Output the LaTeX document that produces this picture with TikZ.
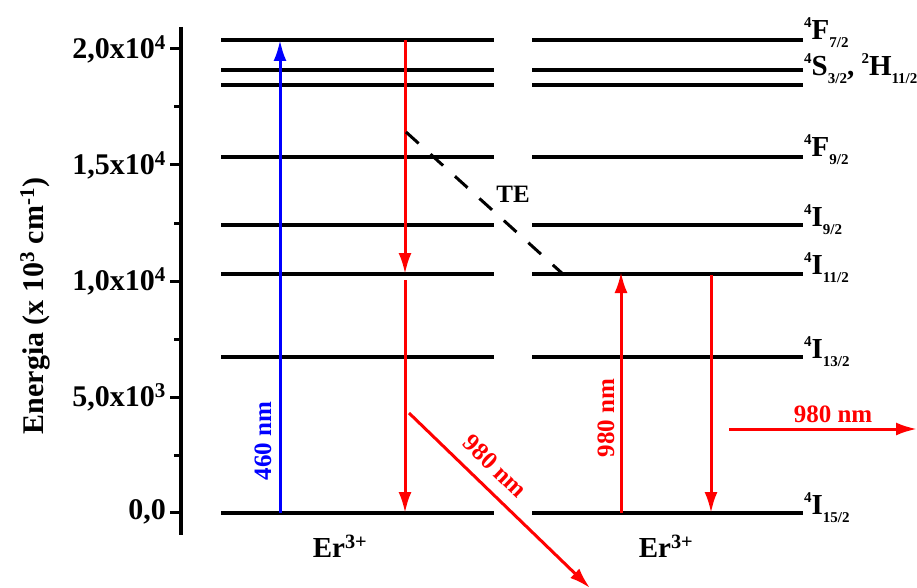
\documentclass[tikz,border=0pt]{standalone}
\usepackage{fontspec}
\setmainfont{Liberation Serif}
\usetikzlibrary{arrows.meta}
\definecolor{pred}{RGB}{255,0,0}
\definecolor{pblue}{RGB}{0,0,255}
\newcommand{\lvsup}[1]{\raisebox{12pt}{\fontsize{15}{15}\selectfont #1}}
\newcommand{\lvsub}[1]{\raisebox{-8pt}{\fontsize{15}{15}\selectfont #1}}
\begin{document}
\begin{tikzpicture}[x=1pt,y=-1pt,font=\bfseries,
  levelline/.style={line width=3.2pt,black},
  axisline/.style={line width=3.2pt,black},
  tip/.style={-{Latex[length=21pt,width=13pt]}},
  redarr/.style={tip,line width=3pt,pred},
  bluearr/.style={tip,line width=3pt,pblue},
  ticklab/.style={anchor=east,font=\bfseries\fontsize{30}{32}\selectfont,inner sep=0pt},
  levlab/.style={anchor=base west,font=\bfseries\fontsize{29}{31}\selectfont,inner sep=0pt},
  arrlab/.style={font=\bfseries\fontsize{25}{27}\selectfont,inner sep=0pt},
  erlab/.style={font=\bfseries\fontsize{29}{31}\selectfont,inner sep=0pt}]
\useasboundingbox (0,0) rectangle (917,588);
% axis
\coordinate (axtop) at (181,27);
\coordinate (axbot) at (181,535);
\draw[axisline] (axtop) -- (axbot);
\foreach \y/\t in {49/{2,0x10\textsuperscript{4}},165/{1,5x10\textsuperscript{4}},281/{1,0x10\textsuperscript{4}},397/{5,0x10\textsuperscript{3}},512/{0,0}}{
  \draw[line width=3pt] (170,\y) -- (181,\y);
  \node[ticklab] at (166,\y) {\t};
}
\foreach \y in {107,223,339,455}{
  \draw[line width=3pt] (174,\y) -- (181,\y);
}
\node[rotate=90,font=\bfseries\fontsize{30}{32}\selectfont] (ylab) at (35,306) {Energia (x 10\textsuperscript{3} cm\textsuperscript{-1})};
% levels
\foreach \n/\y in {F7/40,S3/70,H11/85,F9/157,I9/225,I11/274,I13/357,I15/513}{
  \coordinate (A\n) at (221,\y);
  \coordinate (B\n) at (494,\y);
  \coordinate (C\n) at (532,\y);
  \coordinate (D\n) at (803,\y);
  \draw[levelline] (A\n) -- (B\n);
  \draw[levelline] (C\n) -- (D\n);
}
\node[levlab] (lF7) at (804,40) {\lvsup{4}F\lvsub{7/2}};
\node[levlab] (lS3) at (804,76) {\lvsup{4}S\lvsub{3/2}, \lvsup{2}H\lvsub{11/2}};
\node[levlab] (lF9) at (804,157) {\lvsup{4}F\lvsub{9/2}};
\node[levlab] (lI9) at (804,226) {\lvsup{4}I\lvsub{9/2}};
\node[levlab] (lI11) at (804,274) {\lvsup{4}I\lvsub{11/2}};
\node[levlab] (lI13) at (804,358) {\lvsup{4}I\lvsub{13/2}};
\node[levlab] (lI15) at (804,514) {\lvsup{4}I\lvsub{15/2}};
% arrows left ion
\coordinate (b0) at (280,513);
\coordinate (b1) at (280,40);
\draw[bluearr] (b0) -- (b1);
\node[arrlab,text=pblue,rotate=90] (l460) at (263,441) {460 nm};
\coordinate (r0) at (405,40);
\coordinate (r1) at (405,274);
\coordinate (r2) at (405,280);
\coordinate (r3) at (405,513);
\draw[redarr] (r0) -- (r1);
\draw[redarr] (r2) -- (r3);
\coordinate (te0) at (406,132);
\coordinate (te1) at (564,275);
\draw[line width=3pt,dash pattern=on 17pt off 16pt] (te0) -- (te1);
\node[font=\bfseries\fontsize{25}{27}\selectfont,inner sep=0pt] (te) at (513,194) {TE};
\coordinate (d0) at (409,413);
\coordinate (d1) at (590,588);
\draw[redarr] (d0) -- (d1);
\node[arrlab,text=pred,rotate=-44] (ld) at (495,466) {980 nm};
% arrows right ion
\coordinate (u0) at (621,513);
\coordinate (u1) at (621,272);
\draw[redarr] (u0) -- (u1);
\node[arrlab,text=pred,rotate=90] (lu) at (606,418) {980 nm};
\coordinate (v0) at (711,275);
\coordinate (v1) at (711,513);
\draw[redarr] (v0) -- (v1);
\coordinate (h0) at (729,429);
\coordinate (h1) at (917,429);
\draw[redarr] (h0) -- (h1);
\node[arrlab,text=pred] (lh) at (833,414) {980 nm};
% ion labels
\node[erlab] (er1) at (340,546) {Er\textsuperscript{3+}};
\node[erlab] (er2) at (666,546) {Er\textsuperscript{3+}};
\end{tikzpicture}
\end{document}
